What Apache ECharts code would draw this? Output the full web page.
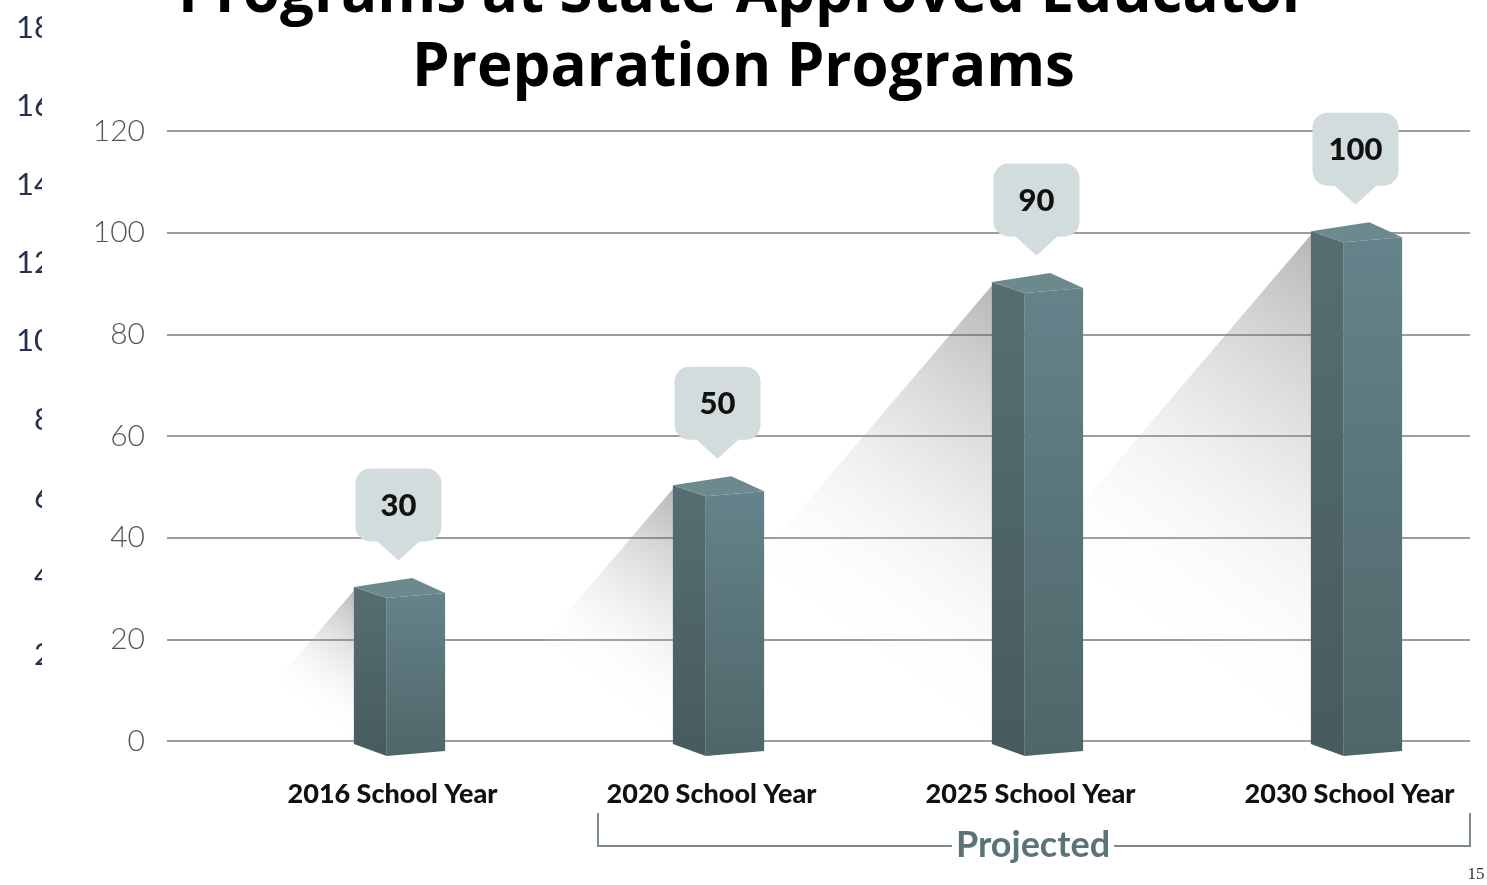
<!DOCTYPE html>
<html>
<head>
<meta charset="utf-8">
<title>Preparation Programs</title>
<script src="https://cdn.jsdelivr.net/npm/echarts@6/dist/echarts.min.js"></script>
<style>
  html, body { margin: 0; padding: 0; background: #fff; }
  #chart { width: 1487px; height: 885px; }
</style>
</head>
<body>
<div id="chart"></div>
<script>
// data
const categories = ['2016 School Year', '2020 School Year', '2025 School Year', '2030 School Year'];
const programCounts = [30, 50, 90, 100];
const yMin = 0;
const yMax = 120;
const yStep = 20;
// tick labels of the chart peeking out behind the slide on the left
const behindMin = 0;
const behindMax = 18;
const behindStep = 2;

const titleLines = ['Programs at State-Approved Educator', 'Preparation Programs'];
const bracketLabel = 'Projected';
const pageNumber = '15';

const chart = echarts.init(document.getElementById('chart'));

const barData = categories.map((c, i) => [i, programCounts[i]]);

// soft diagonal shadow falling to the lower left of each bar
function renderShadow(params, api) {
  const top = api.coord([api.value(0), api.value(1)]);
  const base = api.coord([api.value(0), 0]);
  const band = api.size([1, 0])[0];
  const L = top[0] - band * 0.141;
  const h = base[1] - top[1];
  return {
    type: 'polygon',
    shape: { points: [[L + 2, top[1] - 1], [L - h * 0.85, base[1]], [L + 2, base[1]]] },
    style: {
      fill: new echarts.graphic.LinearGradient(1, 0, 0.15, 1, [
        { offset: 0, color: 'rgba(80, 80, 80, 0.42)' },
        { offset: 0.32, color: 'rgba(150, 150, 150, 0.22)' },
        { offset: 0.68, color: 'rgba(255, 255, 255, 0)' }
      ])
    }
  };
}

// fake 3d column + speech-bubble value label
function renderBar(params, api) {
  const value = api.value(1);
  const top = api.coord([api.value(0), value]);
  const base = api.coord([api.value(0), 0]);
  const band = api.size([1, 0])[0];
  const cx = top[0], yv = top[1], y0 = base[1];
  const half = band * 0.143;
  const inner = band * 0.04;
  const L = cx - half, R = cx + half, F = cx - inner, B = cx + inner;

  return {
    type: 'group',
    children: [
      {
        type: 'polygon',
        shape: { points: [[L, yv - 1.5], [F, yv + 9.5], [F, y0 + 15], [L, y0 + 3]] },
        style: {
          fill: new echarts.graphic.LinearGradient(0, 0, 0, 1, [
            { offset: 0, color: '#566e72' },
            { offset: 1, color: '#465b5e' }
          ])
        }
      },
      {
        type: 'polygon',
        shape: { points: [[F, yv + 9.5], [R, yv + 4.5], [R, y0 + 10], [F, y0 + 15]] },
        style: {
          fill: new echarts.graphic.LinearGradient(0, 0, 0, 1, [
            { offset: 0, color: '#64838a' },
            { offset: 1, color: '#4f6669' }
          ])
        }
      },
      {
        type: 'polygon',
        shape: { points: [[L, yv - 1.5], [B, yv - 10.5], [R, yv + 4.5], [F, yv + 9.5]] },
        style: { fill: '#6c8a8e' }
      },
      {
        type: 'rect',
        shape: { x: cx - 44, y: yv - 120, width: 86, height: 73, r: 15 },
        style: { fill: '#d2dcdd' }
      },
      {
        type: 'polygon',
        shape: { points: [[cx - 23, yv - 48], [cx + 21, yv - 48], [cx - 1, yv - 28]] },
        style: { fill: '#d2dcdd' }
      },
      {
        type: 'text',
        style: {
          x: cx - 1,
          y: yv - 83,
          text: String(value),
          align: 'center',
          verticalAlign: 'middle',
          fill: '#111',
          font: '900 31px Lato'
        }
      }
    ]
  };
}

const option = {
  backgroundColor: '#fff',
  animation: false,
  title: {
    text: titleLines.join('\n'),
    left: 'center',
    top: -47,
    textStyle: {
      fontFamily: 'Open Sans',
      fontWeight: 'bold',
      fontSize: 60,
      lineHeight: 74,
      color: '#000'
    }
  },
  grid: [
    { left: 167, right: 17, top: 131, bottom: 144 },
    // category ticks sit on the bar centres
    { left: 399.5, right: 130.5, top: 131, bottom: 144 },
    { left: 58, width: 10, top: 28, bottom: 152 }
  ],
  xAxis: [
    { gridIndex: 0, type: 'category', data: [], show: false },
    {
      gridIndex: 1,
      type: 'category',
      data: categories,
      boundaryGap: false,
      z: 3,
      axisLine: { show: false },
      axisTick: { show: false },
      axisLabel: {
        margin: 40,
        padding: [0, 14, 0, 0],
        color: '#111',
        fontFamily: 'Lato',
        fontWeight: 900,
        fontSize: 27
      }
    },
    { gridIndex: 2, type: 'category', data: [], show: false }
  ],
  yAxis: [
    {
      gridIndex: 0,
      type: 'value',
      min: yMin,
      max: yMax,
      interval: yStep,
      z: 3,
      axisLine: { show: false },
      axisTick: { show: false },
      axisLabel: {
        margin: 22,
        color: '#555',
        fontFamily: 'Lato',
        fontWeight: 300,
        fontSize: 30
      },
      splitLine: { lineStyle: { color: '#7d7d7d', width: 1.5 } }
    },
    { gridIndex: 1, type: 'value', min: yMin, max: yMax, show: false },
    {
      gridIndex: 2,
      type: 'value',
      min: behindMin,
      max: behindMax,
      interval: behindStep,
      z: 0,
      axisLine: { show: false },
      axisTick: { show: false },
      splitLine: { show: false },
      axisLabel: {
        showMinLabel: false,
        margin: 6,
        color: '#24324f',
        fontFamily: 'Lato',
        fontSize: 31
      }
    }
  ],
  graphic: [
    // the slide covers the chart behind it
    { type: 'rect', z: 1, silent: true, shape: { x: 42, y: 0, width: 1445, height: 885 }, style: { fill: '#fff' } },
    {
      type: 'polyline',
      z: 10,
      shape: { points: [[598, 813], [598, 846], [1470, 846], [1470, 813]] },
      style: { stroke: '#7b8b8d', lineWidth: 2, fill: null }
    },
    {
      type: 'text',
      z: 11,
      x: 1033,
      y: 845,
      style: {
        text: bracketLabel,
        align: 'center',
        verticalAlign: 'middle',
        fill: '#5b7377',
        font: 'bold 36px Lato',
        backgroundColor: '#fff',
        padding: [0, 4]
      }
    },
    {
      type: 'text',
      z: 11,
      x: 1476,
      y: 875,
      style: {
        text: pageNumber,
        align: 'center',
        verticalAlign: 'middle',
        fill: '#333',
        font: '17px "Liberation Serif"'
      }
    }
  ],
  series: [
    {
      type: 'custom',
      name: 'shadow',
      xAxisIndex: 1,
      yAxisIndex: 1,
      z: 4,
      silent: true,
      clip: false,
      renderItem: renderShadow,
      encode: { x: 0, y: 1 },
      data: barData
    },
    {
      type: 'custom',
      name: 'Programs',
      xAxisIndex: 1,
      yAxisIndex: 1,
      z: 5,
      clip: false,
      renderItem: renderBar,
      encode: { x: 0, y: 1 },
      data: barData
    }
  ]
};

chart.setOption(option);
</script>
</body>
</html>
